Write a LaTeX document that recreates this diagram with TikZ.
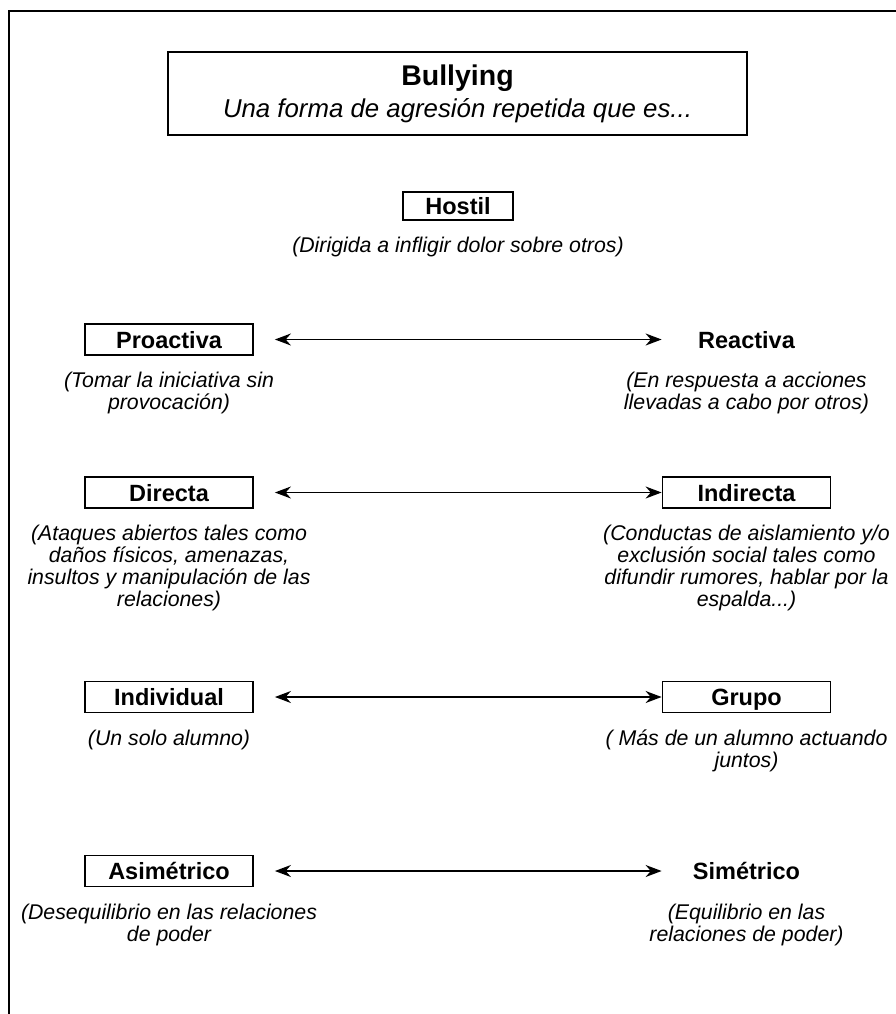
\documentclass[tikz,border=0pt]{standalone}
\usepackage{fontspec}
\setmainfont{Liberation Sans}
\usetikzlibrary{positioning,arrows.meta}

\tikzset{
  labelbox/.style={draw, line width=1.8pt, minimum width=168pt, minimum height=31pt, inner sep=0pt,
    text height=17pt, text depth=0pt, font=\fontsize{23.5}{26}\selectfont\bfseries},
  openlabel/.style={labelbox, draw=none},
  desc/.style={align=center, inner sep=0pt, font=\fontsize{21.3}{22}\selectfont\itshape},
  pairarrow/.style={{Stealth[length=16pt,width=12pt]}-{Stealth[length=16pt,width=12pt]}, line width=1.6pt, shorten <=21pt},
}

\begin{document}
\begin{tikzpicture}[x=1pt, y=-1pt]
    \useasboundingbox (0,0) rectangle (896,1014);
    % frame
    \draw[line width=2pt] (9,1014) -- (9,11) -- (896,11);

    % title
    \node[draw, line width=1.8pt, minimum width=579pt, minimum height=83pt, align=center] (title) at (457.5,93.5)
        {{\fontsize{28.5}{30}\selectfont\bfseries Bullying}\\[6pt]
         {\fontsize{25.8}{30}\selectfont\itshape Una forma de agresión repetida que es...}};

    \node[labelbox, minimum width=110pt, minimum height=28pt] (hostil) at (458,206) {Hostil};
    \node[desc, below=16pt of hostil] (hostil-desc) {(Dirigida a infligir dolor sobre otros)};

    % pairs
    \node[labelbox] (proactiva) at (169,339.5) {Proactiva};
    \node[openlabel] (reactiva) at (746.5,339.5) {Reactiva};
    \node[desc, below=16pt of proactiva] (proactiva-desc) {(Tomar la iniciativa sin\\provocación)};
    \node[desc, below=16pt of reactiva] (reactiva-desc) {(En respuesta a acciones\\llevadas a cabo por otros)};

    \node[labelbox] (directa) at (169,492.5) {Directa};
    \node[labelbox] (indirecta) at (746.5,492.5) {Indirecta};
    \node[desc, below=16pt of directa] (directa-desc) {(Ataques abiertos tales como\\daños físicos, amenazas,\\insultos y manipulación de las\\relaciones)};
    \node[desc, below=16pt of indirecta] (indirecta-desc) {(Conductas de aislamiento y/o\\exclusión social tales como\\difundir rumores, hablar por la\\espalda...)};

    \node[labelbox] (individual) at (169,697) {Individual};
    \node[labelbox] (grupo) at (746.5,697) {Grupo};
    \node[desc, below=16pt of individual] (individual-desc) {(Un solo alumno)};
    \node[desc, below=16pt of grupo] (grupo-desc) {( Más de un alumno actuando\\juntos)};

    \node[labelbox] (asimetrico) at (169,871) {Asimétrico};
    \node[openlabel] (simetrico) at (746.5,871) {Simétrico};
    \node[desc, below=16pt of asimetrico] (asimetrico-desc) {(Desequilibrio en las relaciones\\de poder};
    \node[desc, below=16pt of simetrico] (simetrico-desc) {(Equilibrio en las\\relaciones de poder)};

    % arrows
    \draw[pairarrow] (proactiva) -- (reactiva);
    \draw[pairarrow] (directa) -- (indirecta);
    \draw[pairarrow] (individual) -- (grupo);
    \draw[pairarrow] (asimetrico) -- (simetrico);
\end{tikzpicture}
\end{document}
